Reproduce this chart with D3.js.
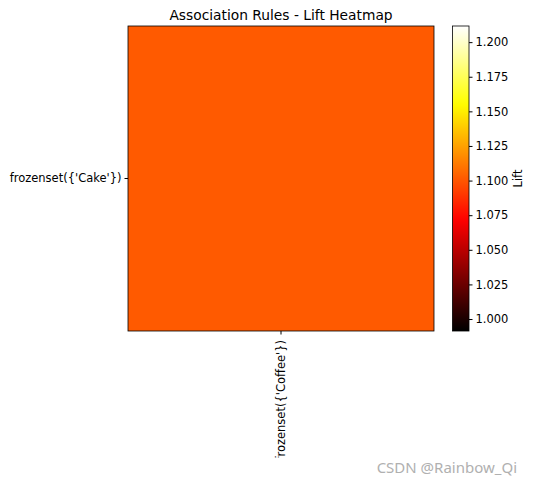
<!DOCTYPE html>
<html>
<head>
<meta charset="utf-8">
<script src="https://cdn.jsdelivr.net/npm/d3@7"></script>
<style>
  body { margin: 0; background: #fff; }
  text { font-family: "DejaVu Sans", sans-serif; fill: #000; }
</style>
</head>
<body>
<div id="chart"></div>
<script>
const width = 534;
const height = 485;

// rules: antecedents (rows) x consequents (columns)
const antecedents = ["frozenset({'Cake'})"];
const consequents = ["frozenset({'Coffee'})"];
const liftValues = [[1.1015]];
const cbarTicks = [1.000, 1.025, 1.050, 1.075, 1.100, 1.125, 1.150, 1.175, 1.200];

// matplotlib expands a singular norm by 10% on both sides
const v = liftValues[0][0];
const vmin = v - 0.1 * Math.abs(v);
const vmax = v + 0.1 * Math.abs(v);

// matplotlib "hot" colormap
function hot(t) {
    t = Math.max(0, Math.min(1, t));
    const r = Math.min(1, t / 0.365079);
    const g = Math.max(0, Math.min(1, (t - 0.365079) / (0.746032 - 0.365079)));
    const b = Math.max(0, Math.min(1, (t - 0.746032) / (1 - 0.746032)));
    return d3.rgb(r * 255, g * 255, b * 255).formatHex();
}
const color = v => hot((v - vmin) / (vmax - vmin));

const ax = { x0: 128, x1: 434, y0: 26, y1: 331 };
const cb = { x0: 452.5, x1: 469, y0: 26, y1: 331 };
const tickFont = "11.5px";

const svg = d3.select("#chart").append("svg")
    .attr("width", width)
    .attr("height", height);

const x = d3.scaleBand().domain(consequents).range([ax.x0, ax.x1]);
const y = d3.scaleBand().domain(antecedents).range([ax.y0, ax.y1]);

const cells = [];
antecedents.forEach((a, i) => consequents.forEach((c, j) => cells.push({ a, c, v: liftValues[i][j] })));

svg.selectAll("rect.cell")
    .data(cells)
    .enter().append("rect")
    .attr("class", "cell")
    .attr("x", d => x(d.c))
    .attr("y", d => y(d.a))
    .attr("width", x.bandwidth())
    .attr("height", y.bandwidth())
    .attr("fill", d => color(d.v));

svg.append("rect")
    .attr("x", ax.x0).attr("y", ax.y0)
    .attr("width", ax.x1 - ax.x0).attr("height", ax.y1 - ax.y0)
    .attr("fill", "none").attr("stroke", "#000").attr("stroke-width", 0.8);

// y axis
const yAxis = svg.append("g")
    .attr("transform", `translate(${ax.x0},0)`)
    .call(d3.axisLeft(y).tickSize(3.5).tickPadding(3));
yAxis.select(".domain").remove();
yAxis.selectAll("text").style("font-size", tickFont).style("font-family", "DejaVu Sans");

// the original image is cut just above the first letter of the x label
svg.append("defs").append("clipPath").attr("id", "xclip")
    .append("rect").attr("x", 0).attr("y", -10).attr("width", width).attr("height", 136.5);

// x axis, labels rotated
const xAxis = svg.append("g")
    .attr("transform", `translate(0,${ax.y1})`)
    .attr("clip-path", "url(#xclip)")
    .call(d3.axisBottom(x).tickSize(3.5));
xAxis.select(".domain").remove();
xAxis.selectAll("text")
    .style("font-size", tickFont).style("font-family", "DejaVu Sans")
    .attr("transform", "rotate(-90)")
    .attr("text-anchor", "end")
    .attr("x", -9).attr("y", 0).attr("dy", "0.35em");

svg.append("text")
    .attr("x", (ax.x0 + ax.x1) / 2).attr("y", 20)
    .attr("text-anchor", "middle")
    .style("font-size", "13.8px")
    .text("Association Rules - Lift Heatmap");

// colorbar
const cy = d3.scaleLinear().domain([vmin, vmax]).range([cb.y1, cb.y0]);
const grad = svg.select("defs").append("linearGradient").attr("id", "hotgrad")
    .attr("x1", 0).attr("y1", 1).attr("x2", 0).attr("y2", 0);
d3.range(0, 1.0001, 0.02).forEach(t => {
    grad.append("stop").attr("offset", t).attr("stop-color", hot(t));
});
svg.append("rect")
    .attr("x", cb.x0).attr("y", cb.y0)
    .attr("width", cb.x1 - cb.x0).attr("height", cb.y1 - cb.y0)
    .attr("fill", "url(#hotgrad)")
    .attr("stroke", "#000").attr("stroke-width", 0.8);

const cAxis = svg.append("g")
    .attr("transform", `translate(${cb.x1},0)`)
    .call(d3.axisRight(cy).tickValues(cbarTicks).tickFormat(d3.format(".3f")).tickSize(3.5).tickPadding(3));
cAxis.select(".domain").remove();
cAxis.selectAll("text").style("font-size", tickFont).style("font-family", "DejaVu Sans");

svg.append("text")
    .attr("transform", `translate(522,${(cb.y0 + cb.y1) / 2}) rotate(-90)`)
    .attr("text-anchor", "middle")
    .style("font-size", tickFont)
    .text("Lift");

svg.append("text")
    .attr("x", 517).attr("y", 473)
    .attr("text-anchor", "end")
    .style("font-size", "15px")
    .style("fill", "#b0b0b0")
    .style("font-family", "Noto Sans, sans-serif")
    .text("CSDN @Rainbow_Qi");
</script>
</body>
</html>
